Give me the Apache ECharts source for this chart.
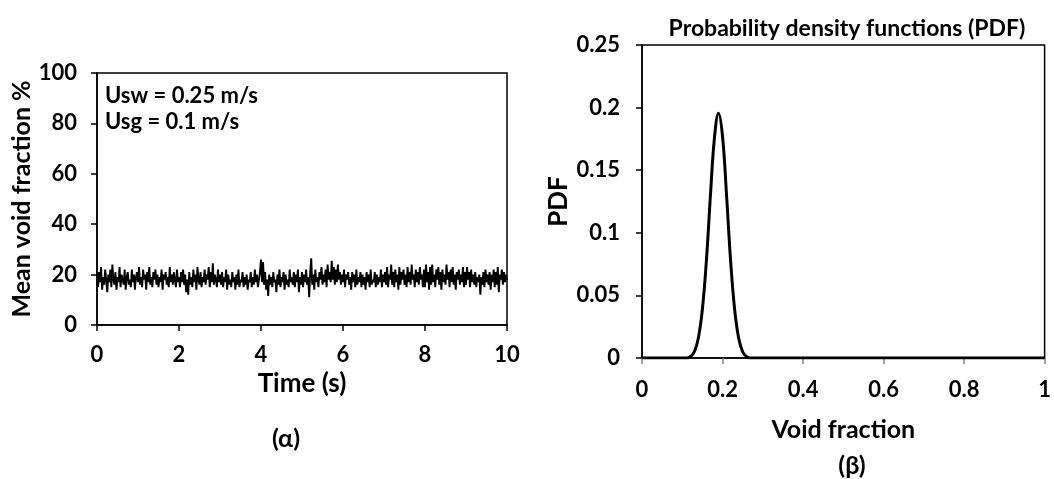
<!DOCTYPE html>
<html><head><meta charset="utf-8">
<script src="https://cdn.jsdelivr.net/npm/echarts@6/dist/echarts.min.js"></script>
<style>html,body{margin:0;padding:0;background:#fff}#c{width:1054px;height:479px}</style>
</head><body><div id="c"></div>
<script>
// Time series (dt = 0.025 s), mean void fraction %
const timeStep = 0.025;
const voidSeries = [
18,15,21,17,23,14,19,16,22,18,13,20,17,22,15,24,18,16,21,14,19,17,23,15,20,18,16,22,14,19,21,16,18,15,22,17,20,14,19,21,
17,23,16,19,15,22,18,20,14,21,17,23,16,19,15,21,18,22,16,20,15,19,17,22,14,20,18,21,16,19,15,23,17,20,16,21,18,15,22,17,
19,15,21,17,22,16,20,13,18,12,21,16,19,15,22,17,20,14,23,18,16,21,15,19,17,22,16,20,18,23,15,21,17,24.5,16,20,18,15,22,17,
20,16,21,15,19,17,22,14,20,16,18,15,21,17,19,14,20,16,22,15,18,17,21,15,19,16,20,14,18,17,21,15,19,16,22,17,20,15,18,21,
26,17,25,16,21,14,18,11.5,20,16,19,15,21,17,18,13,20,16,22,15,19,17,21,14,20,16,18,15,22,17,19,16,21,15,20,17,22,13,19,16,
21,15,20,17,22,16,19,11,21,26.5,16,20,14,22,17,19,15,21,18,23,16,20,17,22,15,24,18,21,17,25.5,18,23,16,22,17,24,18,21,16,20,
17,22,15,20,18,21,16,19,14,21,17,20,15,22,16,19,17,21,15,20,16,19,14,21,17,20,15,22,16,18,17,21,15,20,16,19,17,22,15,20,
17,21,16,23,15,20,18,24,16,21,15,22,17,20,14,23,16,21,18,22,16,20,15,23,17,21,16,24,18,20,15,22,17,21,16,23,18,20,15,22,
15,24,17,21,14,23,16,24,17,20,15,22,18,23,16,21,14,22,17,20,16,24,18,21,15,22,17,23,16,20,14,21,18,22,16,20,17,23,15,21,
16,23,18,21,15,22,17,20,16,21,15,19,17,20,12,19,16,21,15,22,17,20,16,21,14,20,17,22,15,21,16,23,13,20,18,22,16,21,17,20,18
];
// PDF curve
const pdfX = [0,0.05,0.1,0.11,0.12,0.13,0.14,0.15,0.16,0.17,0.18,0.19,0.2,0.21,0.22,0.23,0.24,0.25,0.26,0.27,0.3,0.5,0.7,1];
const pdfY = [0,0,0,0,0.001,0.005,0.016,0.039,0.078,0.13,0.176,0.1955,0.177,0.13,0.078,0.039,0.016,0.005,0.001,0,0,0,0,0];

const F = 'Lato, "Open Sans", sans-serif';
const lab = {color:'#000', fontFamily:F, fontWeight:'bold', fontSize:22};
const axLine = {show:true, lineStyle:{color:'#000', width:1.5}};
const tick = {show:true, length:6, lineStyle:{color:'#000', width:1.5}};
const nameStyle = sz => ({fontFamily:F, fontWeight:'bold', fontSize:sz, color:'#000'});

const chart = echarts.init(document.getElementById('c'));
chart.setOption({
  animation:false,
  backgroundColor:'#fff',
  grid:[
    {left:97, top:73, width:410, height:252, show:true, borderColor:'#000', borderWidth:1.5},
    {left:642, top:45, width:405, height:313, show:true, borderColor:'#000', borderWidth:1.5}
  ],
  title:[
    {text:'Probability density functions (PDF)', left:842, top:12, textAlign:'center',
     textStyle:{fontFamily:F, fontWeight:'bold', fontSize:23, color:'#000'}},
    {text:'(α)', left:281, top:421, textAlign:'center', textStyle:nameStyle(25)},
    {text:'(β)', left:847, top:448, textAlign:'center', textStyle:nameStyle(25)}
  ],
  graphic:[
    {type:'text', left:105, top:85, style:{text:'Usw = 0.25 m/s', font:'bold 22px '+F, fill:'#000'}},
    {type:'text', left:105, top:111, style:{text:'Usg = 0.1 m/s', font:'bold 22px '+F, fill:'#000'}}
  ],
  xAxis:[
    {gridIndex:0, type:'value', min:0, max:10, interval:2, splitLine:{show:false},
     axisLine:axLine, axisTick:tick, axisLabel:Object.assign({margin:19}, lab),
     name:'Time (s)', nameLocation:'middle', nameGap:46, nameTextStyle:nameStyle(26)},
    {gridIndex:1, type:'value', min:0, max:1, interval:0.2, splitLine:{show:false},
     axisLine:axLine, axisTick:{show:true, length:6, lineStyle:{color:'#888', width:1.5}},
     axisLabel:Object.assign({margin:21, formatter:v=>String(+v.toFixed(1))}, lab),
     name:'Void fraction', nameLocation:'middle', nameGap:59, nameTextStyle:nameStyle(25)}
  ],
  yAxis:[
    {gridIndex:0, type:'value', min:0, max:100, interval:20, splitLine:{show:false},
     axisLine:axLine, axisTick:tick, axisLabel:Object.assign({margin:20}, lab),
     name:'Mean void fraction %', nameLocation:'middle', nameGap:62, nameTextStyle:nameStyle(25)},
    {gridIndex:1, type:'value', min:0, max:0.25, interval:0.05, splitLine:{show:false},
     axisLine:axLine, axisTick:tick, axisLabel:Object.assign({margin:22, formatter:v=>String(+v.toFixed(2))}, lab),
     name:'PDF', nameLocation:'middle', nameGap:70, nameTextStyle:nameStyle(26)}
  ],
  series:[
    {type:'line', xAxisIndex:0, yAxisIndex:0, symbol:'none',
     data:voidSeries.map((v,i)=>[i*timeStep, v]),
     lineStyle:{color:'#000', width:1.9}},
    {type:'line', xAxisIndex:1, yAxisIndex:1, symbol:'none', smooth:0.4,
     data:pdfX.map((x,i)=>[x, pdfY[i]]),
     lineStyle:{color:'#000', width:3}}
  ]
});
</script></body></html>
